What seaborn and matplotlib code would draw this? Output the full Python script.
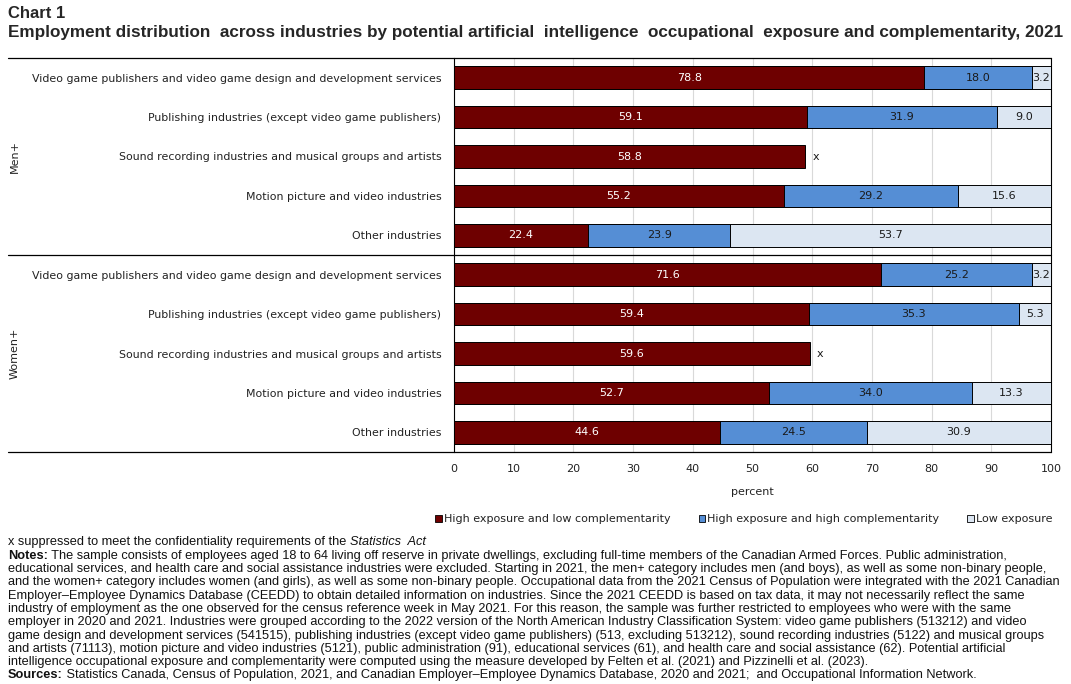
import matplotlib
matplotlib.use("Agg")
import matplotlib.pyplot as plt
import matplotlib.transforms as mtransforms
from matplotlib.lines import Line2D
from matplotlib.patches import Patch
import numpy as np
import pandas as pd
import seaborn as sns

# ---------------- data ----------------
groups = ["Men+", "Women+"]
industries = [
    "Video game publishers and video game design and development services",
    "Publishing industries (except video game publishers)",
    "Sound recording industries and musical groups and artists",
    "Motion picture and video industries",
    "Other industries",
]
series = [
    "High exposure and low complementarity",
    "High exposure and high complementarity",
    "Low exposure",
]
men_high_low = [78.8, 59.1, 58.8, 55.2, 22.4]
men_high_high = [18.0, 31.9, np.nan, 29.2, 23.9]
men_low = [3.2, 9.0, np.nan, 15.6, 53.7]
women_high_low = [71.6, 59.4, 59.6, 52.7, 44.6]
women_high_high = [25.2, 35.3, np.nan, 34.0, 24.5]
women_low = [3.2, 5.3, np.nan, 13.3, 30.9]
xticks = [0, 10, 20, 30, 40, 50, 60, 70, 80, 90, 100]

colors = ["#6E0000", "#558ED5", "#DCE6F2"]
text_colors = ["white", "#1a1a1a", "#1a1a1a"]

# ---------------- frame ----------------
rows = []
for g, vals in zip(groups, [(men_high_low, men_high_high, men_low),
                            (women_high_low, women_high_high, women_low)]):
    for i, ind in enumerate(industries):
        rows.append({"key": f"{g}|{ind}", "group": g, "industry": ind,
                     "s1": vals[0][i], "s2": vals[1][i], "s3": vals[2][i]})
df = pd.DataFrame(rows)
df["c1"] = df["s1"]
df["c2"] = df["s1"] + df["s2"]
df["c3"] = df["c2"] + df["s3"]
order = list(df["key"])

sns.set_style("white")
plt.rcParams["font.family"] = ["DejaVu Sans"]

W, H = 1071, 684
fig = plt.figure(figsize=(W / 100, H / 100), dpi=100)
ax = fig.add_axes([454 / W, 1 - 452 / H, (1051 - 454) / W, (452 - 58) / H])

bar_kw = dict(orient="h", order=order, width=0.57, edgecolor="black",
              linewidth=0.7, saturation=1, errorbar=None, ax=ax, zorder=3)
for col, c in zip(["c3", "c2", "c1"], colors[::-1]):
    sub = df.dropna(subset=[col])
    sns.barplot(data=sub, x=col, y="key", color=c, **bar_kw)

ax.set_xlim(0, 100)
ax.set_ylim(len(order) - 0.5, -0.5)
ax.set_xticks(xticks)
ax.set_xticklabels([str(t) for t in xticks], fontsize=8, color="#222222")
ax.set_yticks(range(len(order)))
ax.set_yticklabels(df["industry"], fontsize=7.95, color="#222222")
ax.tick_params(axis="both", length=0)
ax.tick_params(axis="y", pad=9)
ax.tick_params(axis="x", pad=9)
ax.set_xlabel("percent", fontsize=8, color="#222222", labelpad=9)
ax.set_ylabel("")
ax.set_axisbelow(True)
ax.xaxis.grid(True, color="#d9d9d9", linewidth=0.8, zorder=0)
ax.yaxis.grid(False)
for s in ["top", "bottom"]:
    ax.spines[s].set_visible(False)
for s in ["left", "right"]:
    ax.spines[s].set_visible(True)
    ax.spines[s].set_color("black")
    ax.spines[s].set_linewidth(0.8)

# value labels
for i, r in df.iterrows():
    start = 0.0
    for k, (sc, tc) in enumerate(zip(["s1", "s2", "s3"], text_colors)):
        v = r[sc]
        if np.isnan(v):
            if k == 1:
                ax.text(start + 1.2, i, "x", ha="left", va="center",
                        fontsize=8, color="#1a1a1a")
            break
        ax.text(start + v / 2, i, f"{v:.1f}", ha="center", va="center",
                fontsize=8, color=tc, zorder=5)
        start += v

# horizontal separators extending left
bt = mtransforms.blended_transform_factory(fig.transFigure, ax.transData)
for yv in [-0.5, 4.5, 9.5]:
    fig.add_artist(Line2D([8 / W, 1051 / W], [yv, yv], transform=bt,
                          color="black", linewidth=0.9))

# group labels
for gi, g in enumerate(groups):
    fig.text(15 / W, gi * 5 + 2, g, rotation=90, ha="center", va="center",
             fontsize=8, color="#222222", transform=bt)

# legend
handles = [Patch(facecolor=c, edgecolor="black", linewidth=0.6) for c in colors]
fig.legend(handles, series, loc="center", bbox_to_anchor=(744 / W, 1 - 519 / H),
           ncol=3, frameon=False, fontsize=8, handlelength=0.6, handleheight=0.6,
           handletextpad=0.2, columnspacing=2.5, labelcolor="#222222")

# titles
tfam = ["Liberation Sans Narrow", "Liberation Sans", "DejaVu Sans"]
fig.text(8 / W, 1 - 13 / H, "Chart 1", ha="left", va="center", fontsize=12,
         fontweight="bold", family=tfam)
fig.text(8 / W, 1 - 32 / H,
         "Employment distribution  across industries by potential artificial  intelligence  occupational  exposure and complementarity, 2021",
         ha="left", va="center", fontsize=12.35, fontweight="bold", family=tfam)

# notes
nfam = ["Liberation Sans Narrow", "Liberation Sans", "DejaVu Sans"]
renderer = fig.canvas.get_renderer()


def rich(parts, y):
    x = 8 / W
    for txt, kw in parts:
        t = fig.text(x, 1 - y / H, txt, ha="left", va="center", fontsize=9.2,
                     family=nfam, color="#111111", **kw)
        bb = t.get_window_extent(renderer)
        x += bb.width / fig.bbox.width


lines = [
    [("x suppressed to meet the confidentiality requirements of the ", {}), ("Statistics  Act", {"style": "italic"})],
    [("Notes:", {"weight": "bold"}), (" The sample consists of employees aged 18 to 64 living off reserve in private dwellings, excluding full-time members of the Canadian Armed Forces. Public administration,", {})],
    [("educational services, and health care and social assistance industries were excluded. Starting in 2021, the men+ category includes men (and boys), as well as some non-binary people,", {})],
    [("and the women+ category includes women (and girls), as well as some non-binary people. Occupational data from the 2021 Census of Population were integrated with the 2021 Canadian", {})],
    [("Employer\u2013Employee Dynamics Database (CEEDD) to obtain detailed information on industries. Since the 2021 CEEDD is based on tax data, it may not necessarily reflect the same", {})],
    [("industry of employment as the one observed for the census reference week in May 2021. For this reason, the sample was further restricted to employees who were with the same", {})],
    [("employer in 2020 and 2021. Industries were grouped according to the 2022 version of the North American Industry Classification System: video game publishers (513212) and video", {})],
    [("game design and development services (541515), publishing industries (except video game publishers) (513, excluding 513212), sound recording industries (5122) and musical groups", {})],
    [("and artists (71113), motion picture and video industries (5121), public administration (91), educational services (61), and health care and social assistance (62). Potential artificial", {})],
    [("intelligence occupational exposure and complementarity were computed using the measure developed by Felten et al. (2021) and Pizzinelli et al. (2023).", {})],
    [("Sources:", {"weight": "bold"}), (" Statistics Canada, Census of Population, 2021, and Canadian Employer\u2013Employee Dynamics Database, 2020 and 2021;  and Occupational Information Network.", {})],
]
ys = [542, 556, 569, 582, 596, 609, 622, 636, 649, 662, 675]
for parts, y in zip(lines, ys):
    rich(parts, y)

fig.savefig("out.png", dpi=100)
